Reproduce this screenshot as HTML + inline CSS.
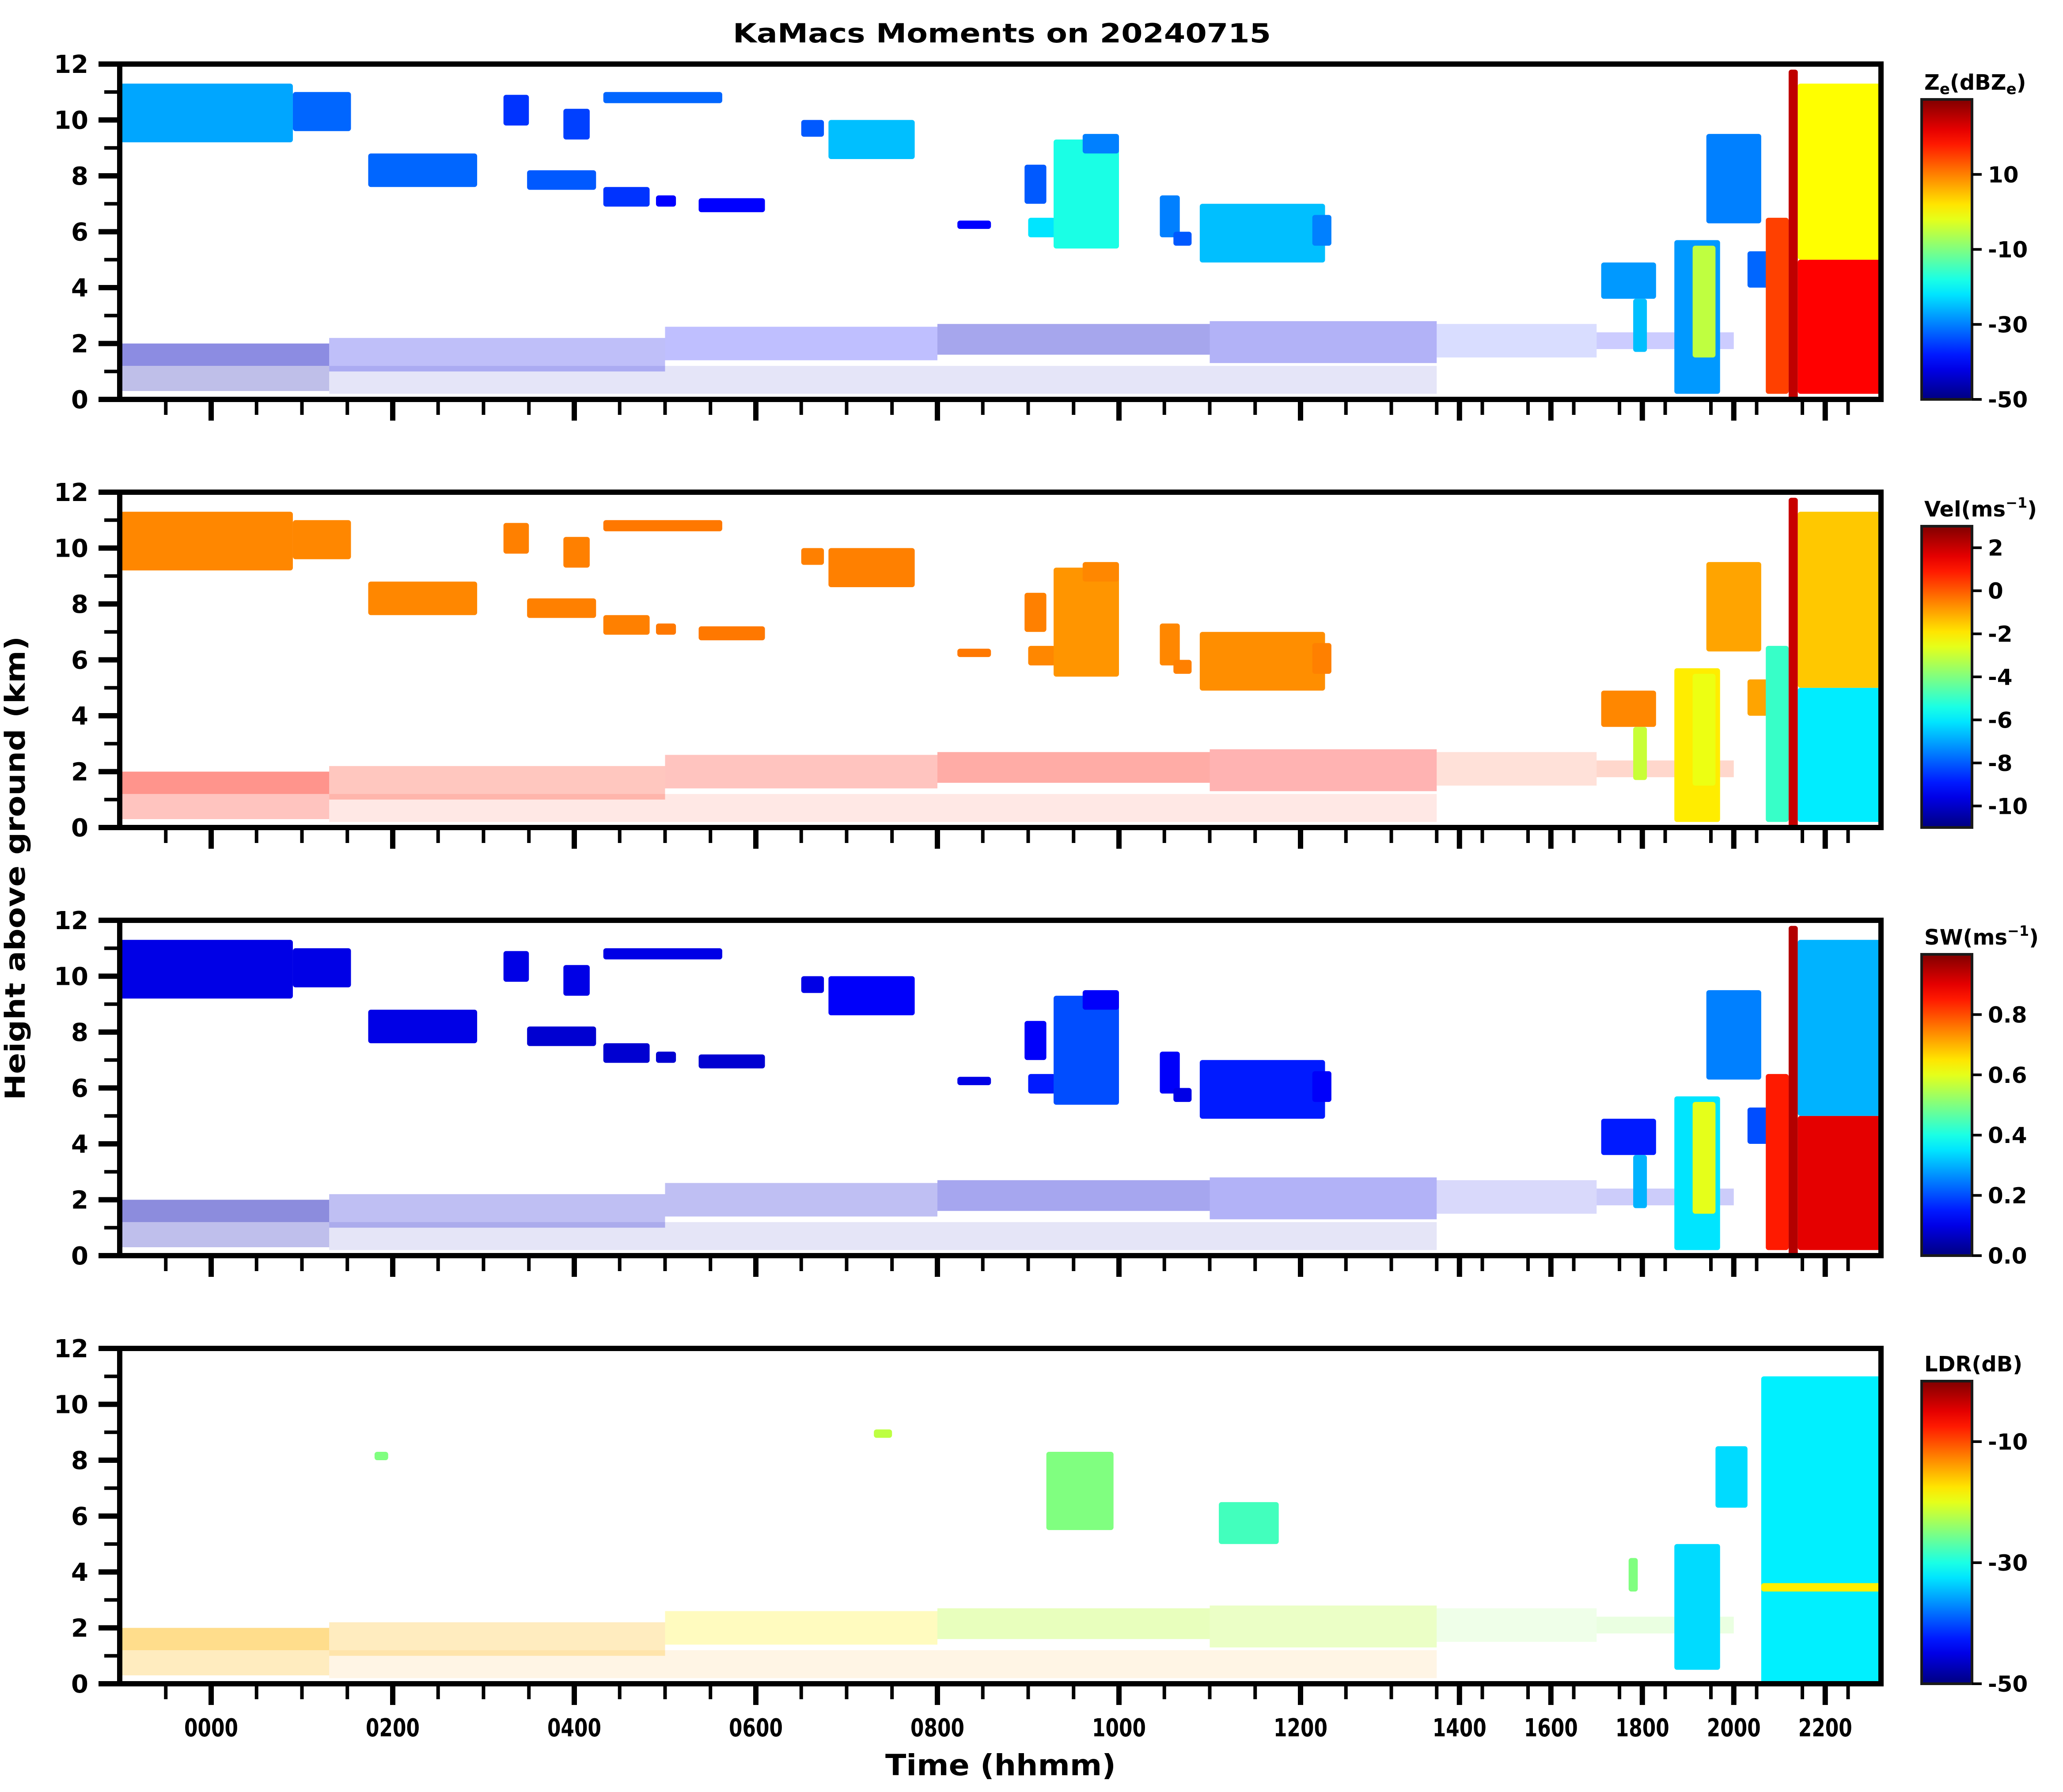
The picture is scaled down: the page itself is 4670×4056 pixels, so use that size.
<!DOCTYPE html>
<html><head><meta charset="utf-8"><title>KaMacs Moments</title>
<style>html,body{margin:0;padding:0;background:#fff}svg{display:block}
text{font-family:"DejaVu Sans","Liberation Sans",sans-serif;font-weight:bold;fill:#000}</style></head>
<body>
<svg id="fig" xmlns="http://www.w3.org/2000/svg" width="4670" height="4056" viewBox="0 0 4670 4056">
<rect width="4670" height="4056" fill="#fff"/>
<text x="2268" y="96" font-size="60" text-anchor="middle" textLength="1218" lengthAdjust="spacingAndGlyphs">KaMacs Moments on 20240715</text>
<text x="0" y="0" font-size="62" text-anchor="middle" transform="translate(56,1965) rotate(-90)" textLength="1050" lengthAdjust="spacingAndGlyphs">Height above ground (km)</text>
<text x="2265" y="4018" font-size="66" text-anchor="middle" textLength="522" lengthAdjust="spacingAndGlyphs">Time (hhmm)</text>
<g id="plots"></g>
</svg>
<script>
// ---- cloud data (time in hours, heights in km) ----
const cloudStart = [-1.0,0.9,1.73,3.48,4.32,4.9,5.37,3.88,4.32,3.22,6.5,6.8,8.22,8.96,9.0,9.28,9.6,10.45,10.6,10.89,12.13,17.1,17.8,18.7,19.1,19.4,20.3,20.7,21.2,21.4,21.4];
const cloudEnd   = [0.9,1.54,2.93,4.24,4.83,5.12,6.1,4.17,5.63,3.5,6.75,7.75,8.59,9.2,9.3,10.0,10.0,10.67,10.8,12.27,12.34,18.3,18.1,19.7,19.6,20.6,20.9,21.2,21.4,23.24,23.24];
const cloudBase  = [9.2,9.6,7.6,7.5,6.9,6.9,6.7,9.3,10.6,9.8,9.4,8.6,6.1,7.0,5.8,5.4,8.8,5.8,5.5,4.9,5.5,3.6,1.7,0.2,1.5,6.3,4.0,0.2,0.0,0.2,5.0];
const cloudTop   = [11.3,11.0,8.8,8.2,7.6,7.3,7.2,10.4,11.0,10.9,10.0,10.0,6.4,8.4,6.5,9.3,9.5,7.3,6.0,7.0,6.6,4.9,3.6,5.7,5.5,9.5,5.3,6.5,11.8,5.0,11.3];
const zeValues   = [-27,-32,-32,-33,-36,-40,-40,-35,-32,-36,-33,-25,-40,-33,-22,-18,-30,-30,-33,-25,-30,-28,-25,-28,-5,-30,-32,15,25,20,0];
const velValues  = [-0.6,-0.6,-0.6,-0.5,-0.5,-0.4,-0.4,-0.5,-0.4,-0.5,-0.5,-0.5,-0.4,-0.5,-0.6,-0.8,-0.6,-0.6,-0.5,-0.7,-0.5,-0.6,-3,-2,-2.5,-1,-1,-5,2,-6,-1.5];
const swValues   = [0.1,0.1,0.1,0.08,0.08,0.08,0.08,0.1,0.1,0.1,0.1,0.12,0.1,0.12,0.15,0.2,0.12,0.12,0.1,0.15,0.12,0.15,0.3,0.35,0.6,0.25,0.2,0.85,0.95,0.9,0.3];
// LDR-only detected regions
const ldrStart = [1.8,7.3,9.2,11.1,17.7,18.7,19.6,20.6,20.6];
const ldrEnd   = [1.95,7.5,9.94,11.76,17.9,19.7,20.3,23.24,23.24];
const ldrBase  = [8.0,8.8,5.5,5.0,3.3,0.5,6.3,0.0,3.3];
const ldrTop   = [8.3,9.1,8.3,6.5,4.5,5.0,8.5,11.0,3.6];
const ldrValues= [-25,-22,-25,-28,-25,-33,-33,-32,-18];
// boundary-layer clutter regions
const blStart = [-1.0,-1.0,1.3,5,8,11,13.5,17,1.3];
const blEnd   = [1.3,1.3,5,8,11,13.5,17,20,13.5];
const blBase  = [1.2,0.3,1.0,1.4,1.6,1.3,1.5,1.8,0.2];
const blTop   = [2.0,1.2,2.2,2.6,2.7,2.8,2.7,2.4,1.2];
const blDensity = [0.45,0.25,0.25,0.25,0.35,0.3,0.15,0.2,0.1];
const blZe  = [-45,-47,-42,-40,-44,-42,-38,-40,-45];
const blVel = [1,1,0.8,1,1,1.2,0.5,0.5,0.8];
const blSw  = [0.05,0.05,0.08,0.08,0.08,0.1,0.1,0.1,0.05];
const blLdr = [-15,-15,-15,-18,-22,-22,-24,-24,-14];
// axes ticks
const yTicks = [0,2,4,6,8,10,12];
const xMajorHours = [0,2,4,6,8,10,12,14,16,18,20,22];
const xMajorLabels = ["0000","0200","0400","0600","0800","1000","1200","1400","1600","1800","2000","2200"];
const zeTicks = [10,-10,-30,-50];
const velTicks = [2,0,-2,-4,-6,-8,-10];
const swTicks = [0.0,0.2,0.4,0.6,0.8];
const swTickLabels = ["0.0","0.2","0.4","0.6","0.8"];
const ldrTicks = [-10,-30,-50];

const NS="http://www.w3.org/2000/svg";
const L=271,R=4258,H=759;
const tops=[145,1114,2083,3052];
function xS(t){ return t<=13.5 ? 478+t*205.5 : 3252+(t-13.5)*103.5; }
function yS(h,p){ return tops[p]+H*(1-h/12); }
function jet(x){x=Math.max(0,Math.min(1,x));const c=v=>Math.round(255*Math.max(0,Math.min(1,v)));
 return `rgb(${c(1.5-Math.abs(4*x-3))},${c(1.5-Math.abs(4*x-2))},${c(1.5-Math.abs(4*x-1))})`;}
function el(tag,attrs,parent){const e=document.createElementNS(NS,tag);for(const k in attrs)e.setAttribute(k,attrs[k]);parent.appendChild(e);return e;}
const root=document.getElementById('plots');
const panels=[
 {name:'reflectivity',min:-50,max:30,ticks:zeTicks,labels:zeTicks.map(String),title:'Z<tspan font-size="34" dy="10">e</tspan><tspan dy="-10">(dBZ</tspan><tspan font-size="34" dy="10">e</tspan><tspan dy="-10">)</tspan>',vals:zeValues,bl:blZe},
 {name:'velocity',min:-11,max:3,ticks:velTicks,labels:velTicks.map(String),title:'Vel(ms<tspan font-size="32" dy="-20">−1</tspan><tspan dy="20">)</tspan>',vals:velValues,bl:blVel},
 {name:'spectrum-width',min:0,max:1,ticks:swTicks,labels:swTickLabels,title:'SW(ms<tspan font-size="32" dy="-20">−1</tspan><tspan dy="20">)</tspan>',vals:swValues,bl:blSw},
 {name:'ldr',min:-50,max:0,ticks:ldrTicks,labels:ldrTicks.map(String),title:'LDR(dB)',vals:null,bl:blLdr}
];
const defs=el('defs',{},document.getElementById('fig'));
const g=el('linearGradient',{id:'jetg',x1:0,y1:1,x2:0,y2:0},defs);
for(let i=0;i<=20;i++){el('stop',{offset:i/20,'stop-color':jet(i/20)},g);}
panels.forEach((P,p)=>{
 const gp=el('g',{},root);
 
 
 const cx=el('clipPath',{id:'clip'+p},defs);
 el('rect',{x:L,y:tops[p],width:R-L,height:H},cx);
 const dg=el('g',{'clip-path':`url(#clip${p})`},gp);
 const norm=v=>(v-P.min)/(P.max-P.min);
 for(let i=0;i<blStart.length;i++){
  const r=el('rect',{x:xS(blStart[i]),y:yS(blTop[i],p),width:xS(blEnd[i])-xS(blStart[i]),height:yS(blBase[i],p)-yS(blTop[i],p),fill:jet(norm(P.bl[i])),'fill-opacity':blDensity[i]},dg);
  
  
 }
 const S=P.vals?cloudStart:ldrStart,E=P.vals?cloudEnd:ldrEnd,B=P.vals?cloudBase:ldrBase,T=P.vals?cloudTop:ldrTop,V=P.vals||ldrValues;
 for(let i=0;i<S.length;i++){
  const r=el('rect',{x:xS(S[i]),y:yS(T[i],p),width:xS(E[i])-xS(S[i]),height:yS(B[i],p)-yS(T[i],p),rx:6,fill:jet(norm(V[i]))},dg);
  
  
 }
 const fr=el('rect',{x:L,y:tops[p],width:R-L,height:H,fill:'none',stroke:'#000','stroke-width':12},gp);
 
 
 for(let h=0;h<=12;h++){
  const y=yS(h,p),maj=h%2===0;
  el('line',{x1:L-6-(maj?42:29),x2:L,y1:y,y2:y,stroke:'#000','stroke-width':maj?12:8},gp);
 }
 yTicks.forEach(h=>{const t=el('text',{x:200,y:yS(h,p)+20,'font-size':56,'text-anchor':'end'},gp);t.textContent=h;
  
  });
 const yb=tops[p]+H+6;
 for(let k=-2;k<=46;k++){const t=k/2;const x=xS(t);if(x<L+8||x>R-8)continue;
  const maj=(t%2===0);let minor=false;
  if(!maj){minor = t<13.5 ? true : (t%1===0.5);}
  if(maj||minor) el('line',{x1:x,x2:x,y1:yb-6,y2:yb+(maj?42:29),stroke:'#000','stroke-width':maj?12:8},gp);
 }
 if(p===3){xMajorHours.forEach((hr,i)=>{const t=el('text',{x:xS(hr),y:3930,'font-size':56,'text-anchor':'middle',textLength:122,lengthAdjust:'spacingAndGlyphs'},gp);t.textContent=xMajorLabels[i];
  
  });}
 const cbTop=[225,1191,2160,3126][p],cbBot=tops[p]+H;
 const cb=el('rect',{x:4350,y:cbTop,width:114,height:cbBot-cbTop,fill:'url(#jetg)',stroke:'#1a1a1a','stroke-width':6},gp);
 
 
 P.ticks.forEach((v,i)=>{const y=cbBot-(cbBot-cbTop)*(v-P.min)/(P.max-P.min);
  el('line',{x1:4464,x2:4486,y1:y,y2:y,stroke:'#000','stroke-width':6},gp);
  const t=el('text',{x:4500,y:y+18,'font-size':50},gp);t.textContent=P.labels[i];
  
  });
 const ct=el('text',{x:4356,y:cbTop-22,'font-size':48},gp);ct.innerHTML=P.title;
 
 
});
</script>
</body></html>
